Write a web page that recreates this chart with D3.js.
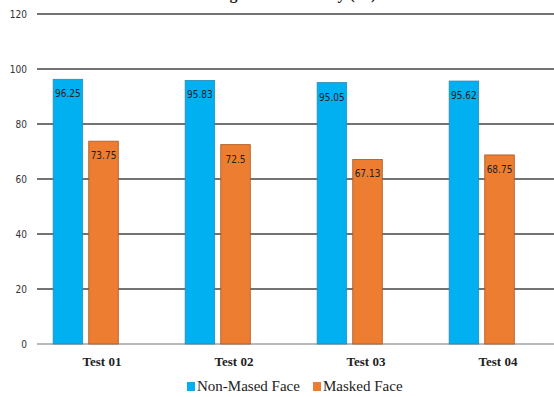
<!DOCTYPE html>
<html><head><meta charset="utf-8">
<script src="https://cdn.jsdelivr.net/npm/d3@7"></script>
<style>body{margin:0;background:#fff}svg{display:block}</style>
</head><body><svg id="c" width="554" height="397"></svg>
<script>
const categories = ["Test 01", "Test 02", "Test 03", "Test 04"];
const seriesNames = ["Non-Mased Face", "Masked Face"];
const nonMasked = [96.25, 95.83, 95.05, 95.62];
const masked = [73.75, 72.5, 67.13, 68.75];
const valueLabels = [["96.25","95.83","95.05","95.62"],["73.75","72.5","67.13","68.75"]];
const yTicks = [0, 20, 40, 60, 80, 100, 120];
const colors = ["#00b0f0", "#ed7d31"];
const strokes = ["#2a88b0", "#a8561f"];
const title = "Recognition Accuracy (%)";

const series = [nonMasked, masked];
const svg = d3.select("#c");
const W = 554, H = 397;
const y = d3.scaleLinear().domain([0, 120]).range([344, 14]);
const x0 = d3.scaleBand().domain(categories).range([36, 564]).paddingInner(0.26).paddingOuter(0.13);
const x1 = d3.scaleBand().domain(seriesNames).range([0, x0.bandwidth() * 2 / 3]).paddingInner(0.17);

// title (cut off at top)
svg.append("text").attr("x", 286).attr("y", -1).attr("text-anchor", "middle")
  .attr("font-family", "Liberation Serif").attr("font-weight", "bold").attr("font-size", 16)
  .attr("fill", "#222").text(title);

// grid + y labels
const g = svg.append("g");
yTicks.forEach(t => {
  g.append("line").attr("x1", 37).attr("x2", W).attr("y1", y(t)).attr("y2", y(t))
    .attr("stroke", t === 0 ? "#777" : "#444").attr("stroke-width", t === 0 ? 1.2 : 1.3);
  g.append("text").attr("x", 27).attr("y", y(t) + 4).attr("text-anchor", "end")
    .attr("font-family", "DejaVu Sans Condensed, DejaVu Sans").attr("font-size", 10)
    .attr("fill", "#333").text(t);
});

// bars
series.forEach((vals, si) => {
  svg.append("g").selectAll("rect").data(vals).join("rect")
    .attr("x", (d, i) => x0(categories[i]) + x1(seriesNames[si]))
    .attr("y", d => y(d))
    .attr("width", x1.bandwidth())
    .attr("height", d => y(0) - y(d))
    .attr("fill", colors[si]).attr("stroke", strokes[si]).attr("stroke-width", 0.8);
  svg.append("g").selectAll("text").data(vals).join("text")
    .attr("x", (d, i) => x0(categories[i]) + x1(seriesNames[si]) + x1.bandwidth() / 2)
    .attr("y", d => y(d) + 18)
    .attr("text-anchor", "middle")
    .attr("font-family", "DejaVu Sans Condensed, DejaVu Sans").attr("font-size", 10)
    .attr("fill", "#222")
    .text((d, i) => valueLabels[si][i]);
});

// category labels
svg.append("g").selectAll("text").data(categories).join("text")
  .attr("x", d => x0(d) + x0.bandwidth() / 2)
  .attr("y", 366).attr("text-anchor", "middle")
  .attr("font-family", "Liberation Serif").attr("font-weight", "bold").attr("font-size", 13)
  .attr("fill", "#222").text(d => d);

// legend
const leg = [{x: 187, name: seriesNames[0], c: colors[0]}, {x: 313, name: seriesNames[1], c: colors[1]}];
leg.forEach((l, i) => {
  svg.append("rect").attr("x", l.x).attr("y", 382).attr("width", 8).attr("height", 9).attr("fill", l.c);
  svg.append("text").attr("x", l.x + 10).attr("y", 391)
    .attr("font-family", "Liberation Serif").attr("font-size", 15).attr("fill", "#222").text(l.name);
});
</script></body></html>
